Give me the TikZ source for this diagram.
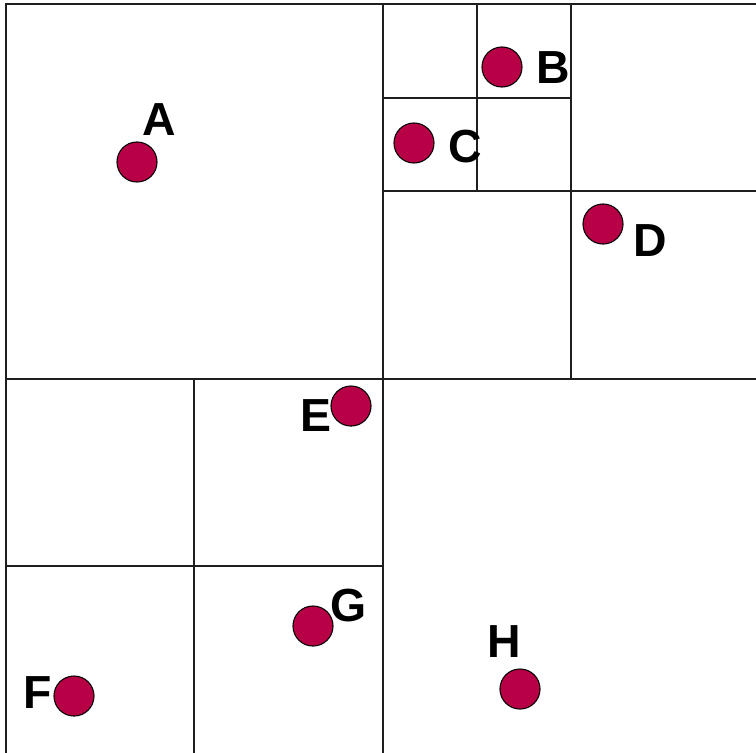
\documentclass[tikz,border=0pt]{standalone}
\usepackage{fontspec}
\setmainfont{Liberation Sans}
\usetikzlibrary{positioning}
\definecolor{qtpoint}{HTML}{B80047}
\definecolor{qtline}{HTML}{1E1E1E}

\begin{document}
\begin{tikzpicture}[x=0.1mm,y=-0.1mm,
 qtcell/.style={draw=qtline,line width=0.45pt},
 qtpt/.style={circle,draw=black,line width=0.3pt,fill=qtpoint,inner sep=0pt,minimum size=11.4pt},
 qtlabel/.style={font=\fontsize{13.2}{15}\selectfont\bfseries,inner sep=0pt}
]
\useasboundingbox (0,0) rectangle (756,752);
\clip (0,0) rectangle (756,752);
% cells
\draw[qtcell] (6,4) rectangle (760,754);
\draw[qtcell] (383,4)--(383,754);
\draw[qtcell] (6,379)--(760,379);
\draw[qtcell] (194,379)--(194,754);
\draw[qtcell] (6,566)--(383,566);
\draw[qtcell] (571,4)--(571,379);
\draw[qtcell] (383,191)--(760,191);
\draw[qtcell] (477,4)--(477,191);
\draw[qtcell] (383,98)--(571,98);
% points
\node[qtpt] (ptA) at (137,162) {};
\node[qtpt] (ptB) at (502,67) {};
\node[qtpt] (ptC) at (414,143) {};
\node[qtpt] (ptD) at (603,224) {};
\node[qtpt] (ptE) at (351,406) {};
\node[qtpt] (ptF) at (74,696) {};
\node[qtpt] (ptG) at (313,626) {};
\node[qtpt] (ptH) at (520,689) {};
\node[qtlabel] (labA) at (159,120) {A};
\node[qtlabel] (labB) at (553,68) {B};
\node[qtlabel] (labC) at (465,147) {C};
\node[qtlabel] (labD) at (650,241) {D};
\node[qtlabel] (labE) at (316,416) {E};
\node[qtlabel] (labF) at (38,693) {F};
\node[qtlabel] (labG) at (349,606) {G};
\node[qtlabel] (labH) at (504,642) {H};
\end{tikzpicture}
\end{document}
